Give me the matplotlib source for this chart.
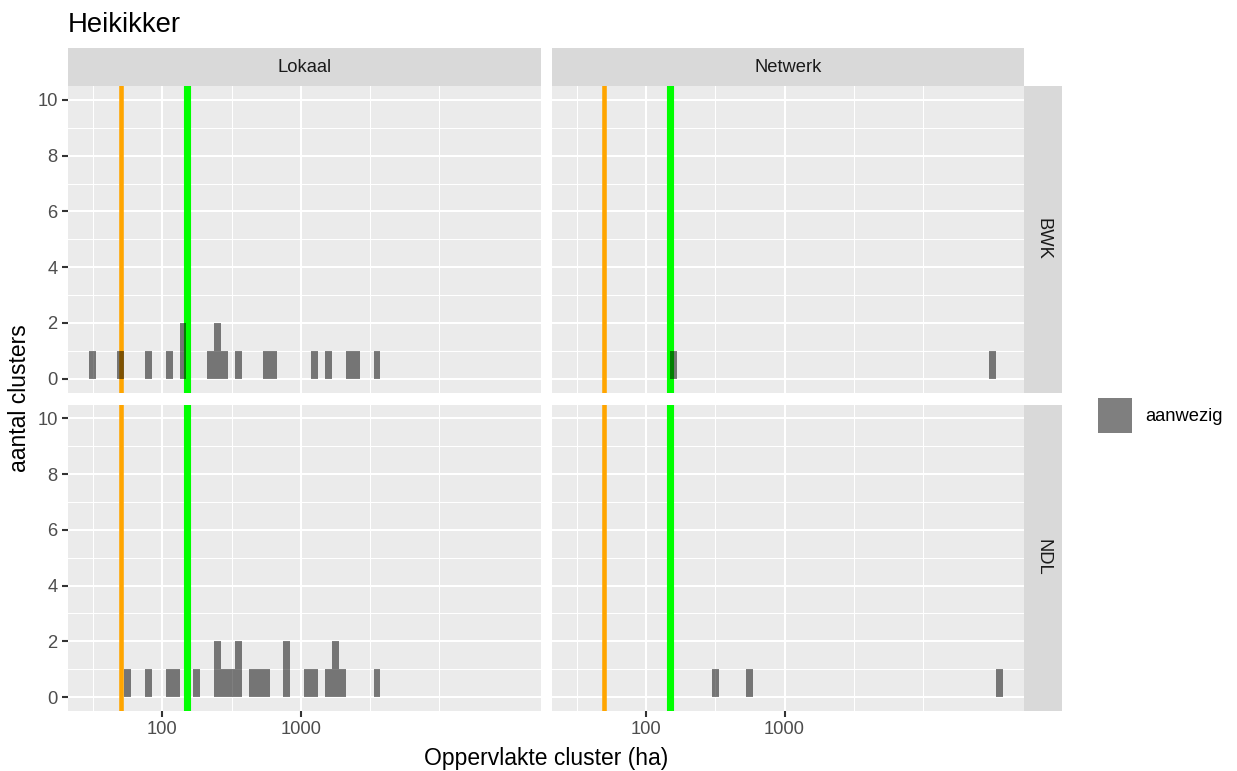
import numpy as np
import matplotlib
matplotlib.use("Agg")
import matplotlib.pyplot as plt
from matplotlib.patches import Patch

plt.rcParams["font.family"] = ["Liberation Sans", "DejaVu Sans"]

# ── Cluster areas (ha) per facet ─────────────────────────────────────────────
bwk_lokaal = [31, 50, 80, 113, 138, 145, 220, 248, 255, 285, 350, 570, 620,
              1270, 1600, 2200, 2550, 3500]
ndl_lokaal = [57, 78, 110, 127, 180, 245, 258, 280, 320, 345, 365, 450, 500,
              560, 780, 810, 1120, 1250, 1580, 1750, 1820, 2000, 3600]
bwk_netwerk = [160, 31000]
ndl_netwerk = [315, 560, 35500]

columns = ["Lokaal", "Netwerk"]
rows = ["BWK", "NDL"]
panels = {("BWK", "Lokaal"): bwk_lokaal, ("BWK", "Netwerk"): bwk_netwerk,
          ("NDL", "Lokaal"): ndl_lokaal, ("NDL", "Netwerk"): ndl_netwerk}

min_area = 50     # orange reference line
target_area = 150  # green reference line

# log10 bins, width 0.05 decade, boundaries at .025
edges = 10 ** (0.025 + 0.05 * np.arange(29, 92))
XLIM = (10 ** 1.32, 10 ** 4.73)

W, H = 1237, 771
DPI = 150
fig = plt.figure(figsize=(W / DPI, H / DPI), dpi=DPI)
fig.patch.set_facecolor("white")


def fx(px):
    return px / W


def fy(py):
    return 1 - py / H


col_x = [(68, 540.5), (552, 1024)]
row_y = [(86, 392.5), (404.5, 711)]

for r, row in enumerate(rows):
    for c, col in enumerate(columns):
        x0, x1 = col_x[c]
        y0, y1 = row_y[r]
        ax = fig.add_axes([fx(x0), fy(y1), fx(x1 - x0), (y1 - y0) / H])
        ax.set_facecolor("#EBEBEB")
        for s in ax.spines.values():
            s.set_visible(False)
        ax.set_axisbelow(True)

        ax.axvline(min_area, color="orange", lw=2.2, zorder=2)
        ax.axvline(target_area, color="#00FF00", lw=3.4, zorder=2)
        ax.hist(panels[(row, col)], bins=edges, color="black", alpha=0.5,
                edgecolor="none", zorder=3)

        ax.set_xscale("log")
        ax.set_xlim(*XLIM)
        ax.set_ylim(-0.5, 10.5)
        ax.set_xticks([100, 1000])
        ax.set_xticklabels(["100", "1000"])
        ax.set_xticks([10 ** 1.5, 10 ** 2.5, 10 ** 3.5, 10 ** 4], minor=True)
        ax.xaxis.set_minor_formatter(matplotlib.ticker.NullFormatter())
        ax.set_yticks(np.arange(0, 11, 2))
        ax.set_yticks(np.arange(1, 10, 2), minor=True)
        ax.grid(which="major", color="white", lw=1.0)
        ax.grid(which="minor", color="white", lw=0.5)
        ax.tick_params(which="major", length=2.75, width=1.0, color="#333333",
                       labelcolor="#4D4D4D", labelsize=8.8, pad=2.2)
        ax.tick_params(which="minor", length=0)
        if c > 0:
            ax.tick_params(axis="y", which="both", left=False, labelleft=False)
        if r == 0:
            ax.tick_params(axis="x", which="both", bottom=False, labelbottom=False)

        # column strip
        if r == 0:
            sax = fig.add_axes([fx(x0), fy(86), fx(x1 - x0), 38 / H])
            sax.set_facecolor("#D9D9D9")
            sax.set_xticks([]); sax.set_yticks([])
            for s in sax.spines.values():
                s.set_visible(False)
            sax.text(0.5, 0.5, col, transform=sax.transAxes, ha="center",
                     va="center", fontsize=8.8, color="#1A1A1A")
        # row strip
        if c == 1:
            sax = fig.add_axes([fx(1024), fy(y1), fx(38), (y1 - y0) / H])
            sax.set_facecolor("#D9D9D9")
            sax.set_xticks([]); sax.set_yticks([])
            for s in sax.spines.values():
                s.set_visible(False)
            sax.text(0.5, 0.5, row, transform=sax.transAxes, ha="center",
                     va="center", rotation=-90, fontsize=8.8, color="#1A1A1A")

fig.text(fx(68), fy(31.5), "Heikikker", fontsize=13.2, va="baseline",
         ha="left", color="black")
fig.text(fx(546), fy(765), "Oppervlakte cluster (ha)", fontsize=11,
         ha="center", va="baseline", color="black")
fig.text(fx(20), fy(398.5), "aantal clusters", fontsize=11, rotation=90,
         ha="center", va="center", color="black")

# legend key: square of about 34 px
fs = 8.8 * DPI / 72
fig.legend(handles=[Patch(facecolor="black", alpha=0.5, edgecolor="none")],
           labels=["aanwezig"], loc="center left",
           bbox_to_anchor=(fx(1098), fy(415.5)), frameon=False,
           fontsize=8.8, borderpad=0, borderaxespad=0,
           handlelength=34 / fs, handleheight=2.48,
           handletextpad=13 / fs)

fig.savefig("out.png", dpi=DPI)
